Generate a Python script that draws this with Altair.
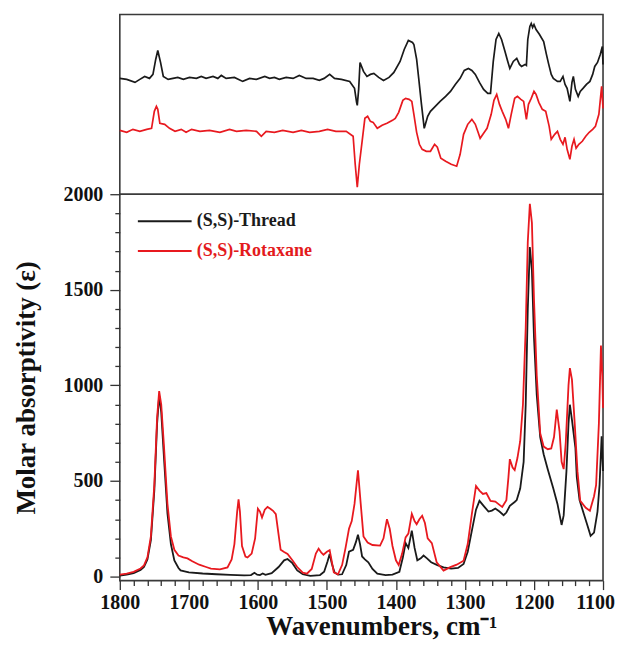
import altair as alt
import pandas as pd

FONT = "Liberation Serif"
SERIES = ["(S,S)-Thread", "(S,S)-Rotaxane"]
COLORS = ["#1a1a1a", "#e8191f"]

# ---------------- IR spectra (bottom panel), molar absorptivity ----------------
ir_thread_wn = [1800, 1790, 1780, 1770, 1765, 1760, 1755, 1750, 1746, 1743, 1740, 1736, 1731, 1726,
                1721, 1715, 1712, 1700, 1680, 1660, 1640, 1620, 1610, 1605, 1601, 1597, 1593, 1589,
                1580, 1570, 1562, 1557, 1550, 1543, 1535, 1524, 1510, 1504, 1499, 1496, 1493, 1489,
                1484, 1478, 1472, 1468, 1462, 1458, 1455, 1452, 1449, 1445, 1440, 1434, 1427, 1415,
                1405, 1395, 1390, 1386, 1382, 1377, 1373, 1369, 1364, 1360, 1355, 1349, 1340, 1331,
                1320, 1310, 1302, 1296, 1290, 1284, 1279, 1273, 1266, 1261, 1256, 1250, 1244, 1240,
                1235, 1228, 1225, 1220, 1215, 1212, 1209, 1206, 1203, 1200, 1196, 1191, 1186, 1180,
                1172, 1166, 1160, 1157, 1153, 1150, 1148, 1145, 1140, 1138, 1134, 1128, 1122, 1118,
                1113, 1108, 1105, 1102, 1100]
ir_thread_val = [5, 10, 18, 35, 50, 90, 190, 450, 800, 945, 860, 620, 330, 170,
                 85, 45, 32, 22, 16, 12, 9, 6, 8, 20, 10, 8, 16, 9,
                 18, 50, 85, 92, 70, 32, 12, 4, 8, 25, 80, 118, 70, 22,
                 10, 12, 60, 130, 140, 180, 219, 170, 105, 90, 75, 40, 15, 8,
                 10, 25, 100, 175, 150, 240, 150, 85, 95, 110, 95, 75, 60, 48,
                 42, 45, 66, 130, 240, 350, 396, 370, 340, 345, 356, 340, 321, 335,
                 370, 390, 400, 460, 600, 900, 1400, 1724, 1600, 1250, 950, 730, 640, 560,
                 460, 380, 270, 320, 550, 800, 899, 820, 673, 520, 400, 330, 260, 213,
                 230, 340, 480, 734, 552]

ir_rot_wn = [1800, 1790, 1780, 1770, 1765, 1760, 1755, 1750, 1746, 1743, 1740, 1736, 1731, 1726,
             1721, 1715, 1708, 1702, 1695, 1685, 1675, 1668, 1655, 1644, 1638, 1634, 1630, 1628,
             1626, 1623, 1618, 1615, 1609, 1604, 1600, 1597, 1594, 1590, 1586, 1582, 1578, 1574,
             1570, 1567, 1562, 1557, 1550, 1543, 1535, 1529, 1522, 1516, 1512, 1508, 1505, 1500,
             1496, 1493, 1490, 1484, 1478, 1473, 1468, 1464, 1460, 1455, 1451, 1447, 1441, 1434,
             1423, 1418, 1413, 1409, 1405, 1400, 1396, 1391, 1386, 1382, 1377, 1373, 1370, 1366,
             1362, 1358, 1354, 1348, 1341, 1331, 1322, 1312, 1302, 1296, 1290, 1284, 1279, 1274,
             1269, 1263, 1256, 1250, 1246, 1240, 1237, 1235, 1231, 1228, 1224, 1220, 1216, 1212,
             1209, 1206, 1203, 1200, 1196, 1191, 1186, 1180, 1175, 1171, 1167, 1163, 1160, 1157,
             1154, 1150, 1148, 1145, 1141, 1137, 1133, 1125, 1119, 1113, 1110, 1106, 1103, 1101,
             1100]
ir_rot_val = [10, 15, 25, 42, 58, 100, 210, 480, 830, 970, 900, 680, 380, 210,
              140, 110, 100, 95, 80, 62, 50, 42, 38, 48, 90, 170, 340, 404,
              340, 160, 105, 100, 120, 200, 355, 340, 309, 350, 364, 355, 344, 326,
              220, 140, 128, 118, 85, 50, 20, 15, 40, 120, 146, 125, 114, 130,
              138, 80, 22, 12, 60, 150, 250, 290, 380, 556, 380, 210, 178, 165,
              162, 200, 300, 250, 160, 85, 60, 120, 205, 225, 328, 290, 274, 300,
              318, 280, 200, 175, 75, 31, 48, 62, 83, 170, 328, 474, 450, 432,
              437, 396, 392, 375, 364, 400, 520, 614, 570, 557, 620, 708, 900, 1300,
              1750, 1950, 1850, 1450, 1050, 750, 680, 666, 670, 730, 873, 760, 600, 562,
              700, 1000, 1090, 1030, 800, 550, 396, 360, 344, 420, 480, 800, 1208, 1050,
              882]

# ---------------- VCD spectra (top panel), arbitrary offset units ----------------
vcd_thread_wn = [1800, 1790, 1778, 1771, 1764, 1757, 1752, 1748, 1745, 1741,
                 1737, 1730, 1723, 1716, 1708, 1699, 1689, 1682, 1675, 1665,
                 1658, 1653, 1646, 1634, 1622, 1612, 1602, 1590, 1583, 1576,
                 1569, 1559, 1549, 1540, 1530, 1520, 1511, 1504, 1496, 1489,
                 1479, 1467, 1460, 1457, 1456, 1454, 1452,
                 1447, 1442, 1437, 1432, 1425, 1418,
                 1410, 1403, 1394, 1388, 1382, 1376, 1374, 1370, 1367, 1363, 1359, 1354, 1350, 1343,
                 1336, 1328, 1321, 1314, 1307, 1301, 1295, 1290, 1285, 1279, 1273, 1267, 1263, 1259,
                 1255, 1251, 1247, 1242, 1238, 1235, 1230, 1225, 1221, 1218, 1213, 1211, 1209, 1206,
                 1204, 1202, 1200, 1197, 1192, 1186, 1182, 1179, 1175, 1172, 1166, 1162, 1158, 1155,
                 1152, 1148, 1145, 1143, 1140, 1136, 1133, 1129, 1124, 1119, 1115, 1112, 1108, 1104,
                 1101, 1100]
vcd_thread_val = [116, 115, 112, 115, 118, 116, 120, 135, 144, 132,
                  118, 115, 116, 117, 115, 117, 116, 118, 116, 118,
                  116, 119, 116, 117, 113, 116, 115, 118, 116, 117,
                  115, 117, 116, 119, 116, 116, 114, 116, 120, 116,
                  115, 113, 106, 92, 89, 105, 132,
                  123, 118, 120, 121, 117, 114,
                  117, 122, 133, 145, 154, 152, 150, 135, 116, 90, 66, 78, 83, 88,
                  93, 98, 103, 110, 116, 124, 126, 124, 120, 112, 105, 101, 101, 133,
                  155, 161, 155, 143, 133, 126, 133, 136, 130, 128, 130, 129, 155, 168,
                  171, 167, 170, 165, 160, 153, 140, 131, 120, 116, 113, 113, 118, 110,
                  106, 93, 112, 118, 105, 98, 103, 106, 110, 113, 120, 128, 132, 140,
                  148, 130]

vcd_rot_wn = [1800, 1790, 1781, 1771, 1761, 1754, 1750, 1747, 1745, 1742,
              1735, 1728, 1720, 1711, 1704, 1696, 1684, 1670, 1655, 1641,
              1631, 1617, 1602, 1595, 1588, 1576, 1564, 1549, 1537, 1525,
              1511, 1499, 1487, 1472, 1462,
              1459, 1456, 1453, 1449, 1445, 1441, 1437, 1433, 1427,
              1420, 1413, 1405, 1401, 1396, 1390, 1386, 1381, 1377, 1374, 1370, 1366, 1362, 1356,
              1350, 1344, 1340, 1335, 1328, 1320, 1312, 1307, 1302, 1296, 1290, 1285, 1281, 1278,
              1272, 1268, 1262, 1258, 1254, 1250, 1246, 1241, 1237, 1233, 1228, 1224, 1219, 1215,
              1211, 1208, 1204, 1200, 1197, 1193, 1188, 1183, 1178, 1175, 1170, 1166, 1162, 1158,
              1155, 1152, 1148, 1145, 1142, 1139, 1135, 1130, 1125, 1120, 1115, 1111, 1106, 1102,
              1100]
vcd_rot_val = [64, 62, 65, 63, 65, 66, 83, 88, 85, 71,
               70, 66, 63, 65, 62, 65, 63, 64, 62, 65,
               63, 64, 63, 58, 63, 62, 64, 62, 64, 62,
               63, 65, 63, 63, 58,
               30, 7, 30, 53, 76, 78, 73, 72, 66,
               69, 71, 74, 76, 82, 94, 96, 95, 93, 80, 62, 50, 45, 43,
               43, 50, 47, 36, 33, 30, 28, 40, 60, 70, 75, 70, 62, 56,
               62, 66, 80, 94, 100, 90, 83, 75, 66, 80, 96, 98, 95, 93,
               75, 90, 96, 103, 100, 92, 85, 83, 68, 55, 60, 63, 55, 50,
               57, 45, 35, 48, 55, 46, 50, 53, 58, 62, 65, 68, 80, 108,
               86]

x_major_ticks = [1800, 1700, 1600, 1500, 1400, 1300, 1200, 1100]
x_minor_ticks = [v for v in range(1100, 1801, 20) if v % 100]
y_major_ticks = [0, 500, 1000, 1500, 2000]
y_minor_ticks = [v for v in range(100, 2000, 100) if v % 500]


def frame(wn_a, val_a, wn_b, val_b):
    a = pd.DataFrame({"wn": wn_a, "val": val_a, "series": SERIES[0]})
    b = pd.DataFrame({"wn": wn_b, "val": val_b, "series": SERIES[1]})
    return pd.concat([a, b], ignore_index=True)


ir_df = frame(ir_thread_wn, ir_thread_val, ir_rot_wn, ir_rot_val)
vcd_df = frame(vcd_thread_wn, vcd_thread_val, vcd_rot_wn, vcd_rot_val)

W = 484
x_scale = alt.Scale(domain=[1100, 1800], reverse=True, nice=False, zero=False)
y_ir_scale = alt.Scale(domain=[-21, 2000], nice=False, zero=False)
y_vcd_scale = alt.Scale(domain=[0, 180], nice=False, zero=False)

TICK = "#333333"

legend = alt.Legend(
    title=None, orient="none", legendX=17, legendY=18,
    symbolType="stroke", symbolSize=2900, symbolStrokeWidth=2, clipHeight=18,
    rowPadding=12, labelOffset=4,
    labelFont=FONT, labelFontSize=18, labelFontWeight="bold",
    labelColor=alt.ExprRef("datum.label == '(S,S)-Rotaxane' ? '#e31a1c' : '#1a1a1a'"),
)

color_ir = alt.Color("series:N", scale=alt.Scale(domain=SERIES, range=COLORS), legend=legend)
color_vcd = alt.Color("series:N", scale=alt.Scale(domain=SERIES, range=COLORS), legend=None)

# ---- top panel ----
top = alt.Chart(vcd_df).mark_line(strokeWidth=1.7).encode(
    x=alt.X("wn:Q", scale=x_scale, axis=None),
    y=alt.Y("val:Q", scale=y_vcd_scale, axis=None),
    color=color_vcd,
    detail="series:N",
).properties(width=W, height=180)

# ---- bottom panel ----
x_major_axis = alt.Axis(
    orient="bottom", values=x_major_ticks, format="d", domain=False, grid=False,
    tickSize=9, tickColor=TICK, tickWidth=1.3, labelPadding=3, labelFlush=False,
    labelOverlap=False, labelOffset=alt.ExprRef("datum.value == 1100 ? -8 : 0"),
    labelFont=FONT, labelFontSize=20, labelFontWeight="bold", labelColor="#111",
    title="Wavenumbers, cm⁻¹", titleFont=FONT, titleFontSize=27, titleFontWeight="bold",
    titleColor="#111", titlePadding=1, titleX=262, titleAlign="center",
)
x_minor_axis = alt.Axis(
    orient="bottom", values=x_minor_ticks, labels=False, domain=False, grid=False,
    tickSize=5, tickColor=TICK, tickWidth=1.3, title=None,
)
y_major_axis = alt.Axis(
    orient="left", values=y_major_ticks, format="d", domain=False, grid=False,
    tickSize=10, tickColor=TICK, tickWidth=1.3, labelPadding=7, labelFlush=False,
    labelFont=FONT, labelFontSize=20, labelFontWeight="bold", labelColor="#111",
    title="Molar absorptivity (ε)", titleFont=FONT, titleFontSize=27, titleFontWeight="bold",
    titleColor="#111", titlePadding=22,
)
y_minor_axis = alt.Axis(
    orient="left", values=y_minor_ticks, labels=False, domain=False, grid=False,
    tickSize=5, tickColor=TICK, tickWidth=1.3, title=None,
)

ir_lines = alt.Chart(ir_df).mark_line(strokeWidth=1.8).encode(
    x=alt.X("wn:Q", scale=x_scale, axis=x_major_axis),
    y=alt.Y("val:Q", scale=y_ir_scale, axis=y_major_axis),
    color=color_ir,
)
ir_minor = alt.Chart(ir_df).mark_line(opacity=0).encode(
    x=alt.X("wn:Q", scale=x_scale, axis=x_minor_axis),
    y=alt.Y("val:Q", scale=y_ir_scale, axis=y_minor_axis),
    detail="series:N",
)

bottom = alt.layer(ir_lines, ir_minor).resolve_axis(
    x="independent", y="independent"
).properties(width=W, height=387)

chart = alt.vconcat(top, bottom, spacing=0, bounds="flush").resolve_scale(
    color="independent"
).properties(
    padding={"left": 4, "top": 5, "right": 0, "bottom": 0},
    background="white",
).configure_view(stroke="#3a3a3a", strokeWidth=1.6)

chart.save("out.html", embed_options={"renderer": "svg", "actions": False})
